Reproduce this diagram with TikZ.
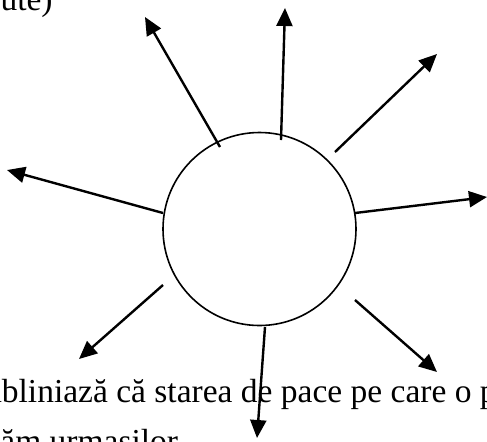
\documentclass[tikz,border=0pt]{standalone}
\usepackage{fontspec}
\setmainfont{Liberation Serif}
\usepackage{tikz}
\usetikzlibrary{arrows.meta}

\begin{document}
\begin{tikzpicture}[x=0.5pt,y=-0.5pt,
  ray/.style={-{Triangle[length=9pt,width=8pt]},line width=1.2pt},
  line/.style={inner sep=0pt,font=\fontsize{16.75pt}{20pt}\selectfont}]
\useasboundingbox (0,0) rectangle (487,441);
\clip (0,0) rectangle (487,441);
% text cut by the picture
\node[line,anchor=base east] (top) at (53,10) {nute)};
\node[line,anchor=base east] (row1) at (497,402) {abliniază că starea de pace pe care o p};
\node[line,anchor=base west] (row2) at (0,452) {ăm urmasilor};
% circle and rays
\node[draw,circle,line width=0.8pt,minimum size=96.5pt,inner sep=0pt] (core) at (259.5,229) {};
\foreach \s/\e [count=\i] in {{220,147}/{145,17},{281,140}/{285,8},{335,152}/{437,54},
  {163,213}/{7,170},{355,213}/{487,197},{163,285}/{79,359},{265,327}/{257,438},{355,300}/{437,372}}{
\coordinate (from\i) at (\s);
\coordinate (to\i) at (\e);
\draw[ray] (from\i)--(to\i);
}
\end{tikzpicture}
\end{document}
